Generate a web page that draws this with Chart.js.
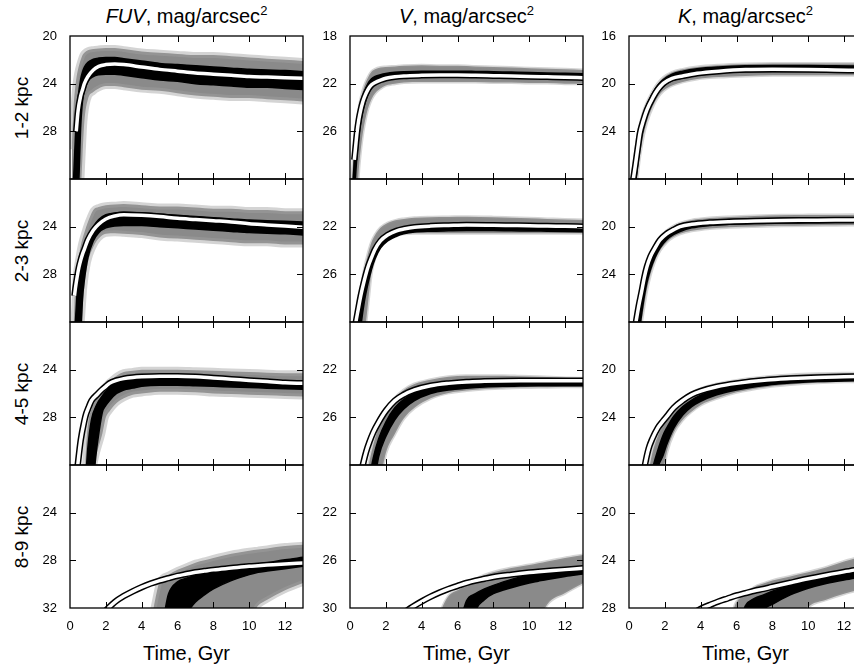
<!DOCTYPE html>
<html>
<head>
<meta charset="utf-8">
<script src="https://cdn.jsdelivr.net/npm/chart.js@4.4.1/dist/chart.umd.min.js"></script>
<style>
  html, body { margin: 0; padding: 0; background: #fff; overflow: hidden; }
  body { position: relative; width: 854px; height: 671px; font-family: 'Liberation Sans', Arial, sans-serif; color: #000; }
  canvas { position: absolute; }
  .coltitle, .timetitle { position: absolute; width: 233px; text-align: center; font-size: 20px; line-height: 20px; white-space: nowrap; }
  .coltitle sup { font-size: 13px; line-height: 0; vertical-align: 8px; }
  .rowlabel { position: absolute; left: 21px; font-size: 19px; line-height: 1; white-space: nowrap;
              transform: translate(-50%, -50%) rotate(-90deg); }
</style>
</head>
<body>
<script>
// ---- data (time in Gyr, surface brightness in mag/arcsec^2) ----
const bandNames = ['FUV', 'V', 'K'];
const rowNames = ['1-2 kpc', '2-3 kpc', '4-5 kpc', '8-9 kpc'];
const magTop = [20, 18, 16];          // brightest value shown per band (axis is reversed)
const timeTicks = [0, 2, 4, 6, 8, 10, 12];

// FUV, 1-2 kpc
const fuv12Time    = [0.1, 0.2, 0.3, 0.35, 0.45, 0.6, 0.7, 0.8, 1.0, 1.3, 1.6, 2, 2.5, 3, 4, 5, 6, 7, 8, 9, 10, 11, 12, 13];
const fuv12GrayHi  = [29.5, 26, 24.2, 23.6, 22.8, 22.0, 21.6, 21.4, 21.2, 21.1, 21.05, 21.0, 21.0, 21.1, 21.3, 21.4, 21.5, 21.6, 21.6, 21.7, 21.8, 21.9, 22.0, 22.1];
const fuv12GrayLo  = [34, 34, 34, 34, 34, 33, 30, 27.2, 25.3, 24.7, 24.4, 24.2, 24.2, 24.3, 24.5, 24.6, 24.8, 25.0, 25.1, 25.2, 25.2, 25.3, 25.4, 25.5];
const fuv12BlackHi = [34, 32, 28.5, 27, 25.2, 23.6, 23.0, 22.6, 22.2, 21.95, 21.85, 21.8, 21.8, 21.9, 22.1, 22.3, 22.4, 22.5, 22.6, 22.7, 22.8, 22.85, 22.9, 23.0];
const fuv12BlackLo = [34, 34, 34, 34, 33.5, 27.5, 25.4, 24.6, 23.8, 23.4, 23.25, 23.2, 23.2, 23.3, 23.5, 23.7, 23.8, 24.0, 24.1, 24.2, 24.3, 24.3, 24.4, 24.5];
const fuv12Model   = [null, null, null, 28, 26.3, 25.0, 24.5, 24.0, 23.4, 22.85, 22.55, 22.4, 22.35, 22.4, 22.6, 22.8, 22.95, 23.1, 23.2, 23.3, 23.4, 23.45, 23.5, 23.55];

// FUV, 2-3 kpc
const fuv23Time    = [0.2, 0.25, 0.3, 0.4, 0.5, 0.6, 0.7, 0.8, 1.0, 1.3, 1.6, 2, 2.5, 3, 4, 5, 6, 7, 8, 9, 10, 11, 12, 13];
const fuv23GrayHi  = [32, 30.5, 28.5, 27.3, 26.4, 25.6, 25.0, 24.5, 23.6, 22.6, 22.35, 22.2, 22.15, 22.1, 22.2, 22.3, 22.3, 22.4, 22.5, 22.5, 22.6, 22.6, 22.7, 22.7];
const fuv23GrayLo  = [34, 34, 34, 34, 34, 33, 31, 29, 27, 25.7, 25.0, 24.6, 24.55, 24.6, 24.7, 24.9, 25.0, 25.1, 25.2, 25.3, 25.4, 25.4, 25.5, 25.5];
const fuv23BlackHi = [34, 33, 32, 29.5, 28.2, 27.0, 26.2, 25.6, 24.8, 24.0, 23.4, 23.0, 22.85, 22.8, 22.85, 22.95, 23.05, 23.15, 23.25, 23.35, 23.45, 23.5, 23.55, 23.6];
const fuv23BlackLo = [34, 34, 34, 34, 34, 33, 30, 28.5, 26.6, 25.2, 24.5, 24.1, 23.95, 23.9, 23.9, 24.0, 24.1, 24.2, 24.3, 24.4, 24.5, 24.55, 24.6, 24.7];
const fuv23Model   = [null, 29.8, 29.2, 28.2, 27.4, 26.8, 26.3, 25.9, 25.1, 24.3, 23.8, 23.35, 23.1, 23.0, 23.05, 23.15, 23.3, 23.4, 23.5, 23.6, 23.75, 23.85, 23.95, 24.05];

// FUV, 4-5 kpc
const fuv45Time    = [0.4, 0.6, 0.8, 0.9, 1.0, 1.2, 1.5, 1.8, 2.0, 2.2, 2.6, 3, 3.5, 4, 5, 6, 7, 8, 9, 10, 11, 12, 13];
const fuv45GrayHi  = [34, 34, 33, 30.5, 28.6, 27.3, 26.4, 25.7, 25.3, 25.0, 24.5, 24.2, 24.1, 24.0, 24.0, 24.0, 24.05, 24.1, 24.15, 24.2, 24.25, 24.3, 24.3];
const fuv45GrayLo  = [34, 34, 34, 34, 34, 33, 31, 29.4, 28.0, 27.5, 26.8, 26.4, 26.1, 26.0, 25.85, 25.85, 25.9, 26.0, 26.05, 26.1, 26.15, 26.2, 26.25];
const fuv45BlackHi = [34, 34, 34, 32.5, 30.5, 28.2, 26.9, 26.2, 25.8, 25.5, 25.1, 24.9, 24.75, 24.7, 24.6, 24.6, 24.65, 24.7, 24.8, 24.85, 24.9, 24.95, 25.0];
const fuv45BlackLo = [34, 34, 34, 34, 34, 34, 30.5, 27.6, 27.0, 26.6, 26.0, 25.7, 25.55, 25.4, 25.3, 25.3, 25.35, 25.4, 25.45, 25.5, 25.55, 25.6, 25.65];
const fuv45Model   = [32.4, 29.9, 28.3, 27.7, 27.3, 26.6, 26.1, 25.65, 25.4, 25.15, 24.9, 24.75, 24.65, 24.6, 24.55, 24.55, 24.6, 24.7, 24.8, 24.9, 25.0, 25.1, 25.15];

// FUV, 8-9 kpc
const fuv89Time    = [2, 2.5, 3, 3.5, 4, 4.5, 5, 5.5, 6, 6.5, 7, 7.5, 8, 9, 10, 10.5, 11, 12, 13];
const fuv89GrayHi  = [34, 34, 34, 34, 34, 33, 29.8, 29.2, 28.8, 28.5, 28.2, 28.0, 27.8, 27.45, 27.2, 27.1, 27.0, 26.8, 26.7];
const fuv89GrayLo  = [34, 34, 34, 34, 34, 34, 34, 34, 34, 34, 34, 34, 34, 34, 33, 31.8, 31.3, 30.5, 29.9];
const fuv89BlackHi = [34, 34, 34, 34, 34, 34, 34, 30.8, 29.8, 29.5, 29.3, 29.15, 29.0, 28.7, 28.4, 28.3, 28.2, 27.95, 27.75];
const fuv89BlackLo = [34, 34, 34, 34, 34, 34, 34, 34, 34, 32.5, 31.5, 30.9, 30.4, 29.7, 29.2, 29.0, 28.9, 28.7, 28.5];
const fuv89Model   = [32.2, 31.5, 31.0, 30.6, 30.25, 29.95, 29.7, 29.5, 29.3, 29.15, 29.0, 28.9, 28.8, 28.65, 28.5, 28.45, 28.4, 28.3, 28.22];

// V, 1-2 kpc
const v12Time    = [0.1, 0.2, 0.24, 0.3, 0.4, 0.5, 0.6, 0.7, 0.8, 1.0, 1.2, 1.4, 1.7, 2.0, 2.5, 3, 4, 5, 6, 7, 8, 9, 10, 11, 12, 13];
const v12GrayHi  = [30, 28.1, 27.3, 26.3, 25.1, 24.1, 23.3, 22.7, 22.2, 21.5, 21.0, 20.8, 20.65, 20.6, 20.55, 20.5, 20.45, 20.5, 20.5, 20.55, 20.6, 20.65, 20.7, 20.75, 20.8, 20.85];
const v12GrayLo  = [32, 32, 32, 32, 31.2, 29.0, 27.5, 26.3, 25.4, 24.1, 23.3, 22.8, 22.4, 22.15, 22.0, 21.9, 21.85, 21.85, 21.85, 21.85, 21.9, 21.9, 21.95, 21.95, 22.0, 22.0];
const v12BlackHi = [32, 29.5, 28.3, 27.0, 25.6, 24.6, 23.8, 23.2, 22.7, 22.0, 21.6, 21.4, 21.25, 21.15, 21.05, 21.0, 20.95, 20.95, 20.95, 20.97, 21.0, 21.03, 21.06, 21.1, 21.13, 21.16];
const v12BlackLo = [32, 32, 31.5, 30.0, 27.8, 26.3, 25.2, 24.4, 23.8, 22.9, 22.35, 22.05, 21.8, 21.65, 21.52, 21.45, 21.4, 21.38, 21.38, 21.4, 21.43, 21.46, 21.5, 21.53, 21.56, 21.6];
const v12Model   = [null, null, 28.4, 27.5, 26.0, 24.95, 24.2, 23.6, 23.15, 22.5, 22.1, 21.9, 21.7, 21.55, 21.42, 21.35, 21.3, 21.28, 21.28, 21.3, 21.33, 21.36, 21.4, 21.43, 21.46, 21.5];

// V, 2-3 kpc
const v23Time    = [0.2, 0.33, 0.45, 0.6, 0.8, 1.0, 1.2, 1.4, 1.7, 2.1, 2.6, 3, 3.6, 4.5, 5.5, 6.5, 8, 9, 10, 11, 12, 13];
const v23GrayHi  = [33, 31.2, 29.5, 27.4, 25.6, 24.3, 23.3, 22.7, 22.1, 21.7, 21.45, 21.35, 21.25, 21.2, 21.18, 21.16, 21.2, 21.25, 21.3, 21.35, 21.4, 21.44];
const v23GrayLo  = [34, 34, 34, 33, 31.2, 28.5, 25.8, 24.6, 23.4, 22.95, 22.7, 22.6, 22.55, 22.55, 22.55, 22.55, 22.55, 22.55, 22.55, 22.55, 22.55, 22.55];
const v23BlackHi = [34, 32, 30.3, 28.6, 26.9, 25.6, 24.6, 23.9, 23.2, 22.75, 22.45, 22.3, 22.2, 22.1, 22.07, 22.05, 22.05, 22.05, 22.05, 22.06, 22.08, 22.1];
const v23BlackLo = [34, 34, 33, 30.5, 28.3, 26.8, 25.6, 24.7, 23.8, 23.2, 22.8, 22.6, 22.45, 22.38, 22.35, 22.33, 22.33, 22.35, 22.36, 22.38, 22.4, 22.42];
const v23Model   = [31.3, 30.0, 29.0, 27.8, 26.5, 25.4, 24.6, 23.9, 23.2, 22.7, 22.35, 22.2, 22.05, 21.95, 21.9, 21.86, 21.88, 21.9, 21.92, 21.95, 21.97, 22.0];

// V, 4-5 kpc
const v45Time    = [0.5, 0.7, 0.9, 1.1, 1.3, 1.6, 2.0, 2.5, 3, 3.6, 4.5, 5.5, 6.5, 7.5, 8.5, 9.5, 10.5, 11.5, 12.2, 13];
const v45GrayHi  = [34, 33, 31.3, 29.6, 28.3, 26.8, 25.5, 24.4, 23.7, 23.2, 22.85, 22.6, 22.5, 22.5, 22.5, 22.55, 22.6, 22.65, 22.7, 22.72];
const v45GrayLo  = [34, 34, 34, 34, 34, 32, 29.0, 27.4, 26.1, 25.2, 24.4, 23.95, 23.75, 23.62, 23.55, 23.5, 23.48, 23.45, 23.44, 23.43];
const v45BlackHi = [34, 34, 33, 31, 29.4, 27.8, 26.4, 25.2, 24.5, 24.0, 23.6, 23.35, 23.2, 23.12, 23.08, 23.05, 23.03, 23.02, 23.01, 23.0];
const v45BlackLo = [34, 34, 34, 34, 32, 29.3, 27.6, 26.2, 25.3, 24.6, 24.0, 23.7, 23.55, 23.45, 23.4, 23.38, 23.36, 23.35, 23.35, 23.35];
const v45Model   = [31.5, 30.1, 28.9, 28.0, 27.25, 26.4, 25.45, 24.6, 24.1, 23.7, 23.35, 23.15, 23.03, 22.98, 22.95, 22.93, 22.92, 22.92, 22.92, 22.92];

// V, 8-9 kpc
const v89Time    = [3, 3.5, 4, 4.5, 5, 5.5, 6, 6.5, 7, 7.5, 8, 9, 10, 10.5, 11, 12, 13];
const v89GrayHi  = [34, 34, 34, 34, 30.6, 29.0, 28.5, 28.1, 27.6, 27.25, 27.0, 26.65, 26.4, 26.25, 26.1, 25.8, 25.55];
const v89GrayLo  = [34, 34, 34, 34, 34, 34, 34, 34, 34, 34, 34, 34, 32.5, 31.2, 29.7, 28.75, 27.93];
const v89BlackHi = [34, 34, 34, 34, 34, 34, 32, 29.4, 28.8, 28.4, 28.1, 27.6, 27.25, 27.15, 27.05, 26.9, 26.8];
const v89BlackLo = [34, 34, 34, 34, 34, 34, 34, 34, 30.3, 29.3, 28.8, 28.3, 27.9, 27.75, 27.6, 27.35, 27.15];
const v89Model   = [30.4, 29.9, 29.45, 29.05, 28.7, 28.4, 28.15, 27.9, 27.7, 27.55, 27.4, 27.2, 27.03, 26.96, 26.9, 26.78, 26.67];

// K, 1-2 kpc
const k12Time    = [0.1, 0.24, 0.35, 0.5, 0.61, 0.8, 1.0, 1.36, 1.6, 1.91, 2.4, 3, 3.8, 5, 6.5, 8, 10, 11.5, 13];
const k12GrayHi  = [28.6, 27.0, 25.8, 24.3, 23.5, 22.4, 21.6, 20.55, 20.0, 19.5, 19.05, 18.8, 18.6, 18.45, 18.35, 18.3, 18.3, 18.3, 18.3];
const k12GrayLo  = [30, 30, 29.3, 27.3, 26.0, 24.4, 23.2, 21.8, 21.15, 20.6, 20.15, 19.85, 19.6, 19.45, 19.35, 19.3, 19.3, 19.3, 19.3];
const k12BlackHi = [30, 27.6, 26.2, 24.7, 23.7, 22.6, 21.8, 20.7, 20.15, 19.65, 19.2, 18.95, 18.75, 18.6, 18.5, 18.47, 18.48, 18.5, 18.52];
const k12BlackLo = [30, 30, 28.6, 26.5, 25.2, 23.7, 22.65, 21.4, 20.8, 20.25, 19.75, 19.5, 19.3, 19.1, 19.0, 18.97, 18.98, 19.0, 19.02];
const k12Model   = [null, 28, 26.9, 25.3, 24.16, 23.1, 22.2, 21.09, 20.5, 19.97, 19.55, 19.35, 19.13, 18.95, 18.82, 18.8, 18.82, 18.85, 18.88];

// K, 2-3 kpc
const k23Time    = [0.2, 0.39, 0.55, 0.7, 0.85, 1.0, 1.2, 1.45, 1.73, 2.1, 2.5, 2.85, 3.5, 4.5, 5.6, 7, 8.5, 10, 11.5, 13];
const k23GrayHi  = [30, 28.5, 26.8, 25.4, 24.2, 23.3, 22.4, 21.6, 20.9, 20.35, 19.95, 19.7, 19.45, 19.28, 19.18, 19.1, 19.05, 19.03, 19.02, 19.0];
const k23GrayLo  = [30, 30, 29.5, 28.0, 26.6, 25.3, 24.0, 22.85, 22.0, 21.3, 20.85, 20.6, 20.35, 20.15, 20.05, 19.98, 19.93, 19.9, 19.88, 19.86];
const k23BlackHi = [30, 28.6, 27.0, 25.7, 24.6, 23.6, 22.7, 21.9, 21.2, 20.6, 20.2, 19.95, 19.7, 19.5, 19.4, 19.33, 19.3, 19.28, 19.27, 19.26];
const k23BlackLo = [30, 30, 29.0, 27.4, 25.9, 24.7, 23.6, 22.6, 21.8, 21.1, 20.65, 20.4, 20.1, 19.9, 19.8, 19.73, 19.7, 19.68, 19.66, 19.65];
const k23Model   = [null, 28, 26.6, 25.5, 24.3, 23.36, 22.5, 21.8, 21.12, 20.6, 20.25, 20.0, 19.8, 19.66, 19.58, 19.52, 19.48, 19.46, 19.44, 19.43];

// K, 4-5 kpc
const k45Time    = [0.7, 0.89, 1.1, 1.3, 1.6, 1.9, 2.1, 2.5, 3.0, 3.5, 4.0, 4.9, 6, 7.7, 9, 10.5, 12, 13];
const k45GrayHi  = [31, 30, 28.5, 27.0, 25.6, 24.6, 24.0, 23.1, 22.4, 21.95, 21.6, 21.2, 20.9, 20.6, 20.45, 20.35, 20.3, 20.3];
const k45GrayLo  = [31, 31, 31, 31, 30, 28.6, 27.0, 25.3, 24.2, 23.5, 22.96, 22.4, 21.9, 21.45, 21.25, 21.1, 21.02, 21.0];
const k45BlackHi = [31, 31, 30.0, 28.4, 26.8, 25.5, 24.9, 23.9, 23.1, 22.55, 22.15, 21.7, 21.35, 21.0, 20.85, 20.75, 20.68, 20.65];
const k45BlackLo = [31, 31, 31, 31, 28.3, 27.2, 26.3, 24.9, 23.8, 23.1, 22.65, 22.1, 21.7, 21.3, 21.12, 21.0, 20.95, 20.92];
const k45Model   = [29.7, 28, 26.6, 25.8, 24.9, 24.3, 23.94, 23.2, 22.58, 22.1, 21.8, 21.43, 21.15, 20.87, 20.75, 20.65, 20.6, 20.57];

// K, 8-9 kpc
const k89Time    = [3.5, 4.1, 4.5, 5, 5.5, 6, 6.5, 7, 7.5, 8, 9, 10, 11, 12, 13];
const k89GrayHi  = [30, 30, 30, 30, 29.5, 27.5, 26.9, 26.25, 25.95, 25.7, 25.35, 25.0, 24.6, 24.1, 23.7];
const k89GrayLo  = [30, 30, 30, 30, 30, 30, 30, 30, 30, 30, 30, 27.9, 27.3, 26.8, 26.4];
const k89BlackHi = [30, 30, 30, 30, 30, 30, 27.8, 27.2, 26.9, 26.6, 26.15, 25.75, 25.45, 25.15, 24.9];
const k89BlackLo = [30, 30, 30, 30, 30, 30, 30, 30, 28.2, 27.7, 26.9, 26.35, 25.95, 25.65, 25.4];
const k89Model   = [28.5, 28.0, 27.75, 27.45, 27.2, 26.95, 26.75, 26.55, 26.4, 26.22, 25.88, 25.55, 25.25, 24.97, 24.72];

// panels[row][column]
const panels = [
  [
    { time: fuv12Time, grayHi: fuv12GrayHi, grayLo: fuv12GrayLo, blackHi: fuv12BlackHi, blackLo: fuv12BlackLo, model: fuv12Model },
    { time: v12Time, grayHi: v12GrayHi, grayLo: v12GrayLo, blackHi: v12BlackHi, blackLo: v12BlackLo, model: v12Model },
    { time: k12Time, grayHi: k12GrayHi, grayLo: k12GrayLo, blackHi: k12BlackHi, blackLo: k12BlackLo, model: k12Model }
  ],
  [
    { time: fuv23Time, grayHi: fuv23GrayHi, grayLo: fuv23GrayLo, blackHi: fuv23BlackHi, blackLo: fuv23BlackLo, model: fuv23Model },
    { time: v23Time, grayHi: v23GrayHi, grayLo: v23GrayLo, blackHi: v23BlackHi, blackLo: v23BlackLo, model: v23Model },
    { time: k23Time, grayHi: k23GrayHi, grayLo: k23GrayLo, blackHi: k23BlackHi, blackLo: k23BlackLo, model: k23Model }
  ],
  [
    { time: fuv45Time, grayHi: fuv45GrayHi, grayLo: fuv45GrayLo, blackHi: fuv45BlackHi, blackLo: fuv45BlackLo, model: fuv45Model },
    { time: v45Time, grayHi: v45GrayHi, grayLo: v45GrayLo, blackHi: v45BlackHi, blackLo: v45BlackLo, model: v45Model },
    { time: k45Time, grayHi: k45GrayHi, grayLo: k45GrayLo, blackHi: k45BlackHi, blackLo: k45BlackLo, model: k45Model }
  ],
  [
    { time: fuv89Time, grayHi: fuv89GrayHi, grayLo: fuv89GrayLo, blackHi: fuv89BlackHi, blackLo: fuv89BlackLo, model: fuv89Model },
    { time: v89Time, grayHi: v89GrayHi, grayLo: v89GrayLo, blackHi: v89BlackHi, blackLo: v89BlackLo, model: v89Model },
    { time: k89Time, grayHi: k89GrayHi, grayLo: k89GrayLo, blackHi: k89BlackHi, blackLo: k89BlackLo, model: k89Model }
  ]
];

// ---- layout ----
const columnLeft = [70, 350, 629];
const rowTop = [36, 179, 322, 465];
const plotW = 233, plotH = 143;
const padLeft = 45, padTop = 10, padRight = 12, padBottom = 35;

Chart.defaults.font.family = "'Liberation Sans', Arial, sans-serif";
Chart.defaults.font.size = 13;
Chart.defaults.color = '#000';

function pts(time, mags) {
  return time.map((t, i) => ({ x: t, y: mags[i] }));
}

// box round each panel, with short inward ticks on all four sides
const framePlugin = {
  id: 'frame',
  afterDatasetsDraw(chart) {
    const { ctx, chartArea: a } = chart;
    const x = chart.scales.x, y = chart.scales.y;
    ctx.save();
    ctx.strokeStyle = '#000';
    ctx.lineWidth = 1;
    ctx.beginPath();
    x.ticks.forEach(tk => {
      if (tk.value <= x.min || tk.value >= x.max) return;
      const px = Math.round(x.getPixelForValue(tk.value)) + 0.5;
      ctx.moveTo(px, a.top); ctx.lineTo(px, a.top + 6);
      ctx.moveTo(px, a.bottom); ctx.lineTo(px, a.bottom - 6);
    });
    y.ticks.forEach(tk => {
      if (tk.value <= y.min || tk.value >= y.max) return;
      const py = Math.round(y.getPixelForValue(tk.value)) + 0.5;
      ctx.moveTo(a.left, py); ctx.lineTo(a.left + 6, py);
      ctx.moveTo(a.right, py); ctx.lineTo(a.right - 6, py);
    });
    ctx.stroke();
    ctx.lineWidth = 1.3;
    ctx.strokeRect(a.left, a.top, a.right - a.left, a.bottom - a.top);
    ctx.restore();
  }
};

function addText(cls, html, left, top) {
  const d = document.createElement('div');
  d.className = cls;
  d.innerHTML = html;
  d.style.left = left + 'px';
  d.style.top = top + 'px';
  document.body.appendChild(d);
}

bandNames.forEach((band, c) => {
  addText('coltitle', '<i>' + band + '</i>, mag/arcsec<sup>2</sup>', columnLeft[c], 6);
  addText('timetitle', 'Time, Gyr', columnLeft[c], 643);
});
rowNames.forEach((name, r) => {
  const d = document.createElement('div');
  d.className = 'rowlabel';
  d.textContent = name;
  d.style.top = (rowTop[r] + plotH / 2) + 'px';
  document.body.appendChild(d);
});

rowNames.forEach((rowName, r) => {
  bandNames.forEach((band, c) => {
    const p = panels[r][c];
    const top = magTop[c];
    let yTicks = [top + 4, top + 8];
    if (r === 0) yTicks = [top, ...yTicks];
    if (r === rowNames.length - 1) yTicks = [...yTicks, top + 12];

    const isFuv = c === 0;
    const fringe = isFuv ? 'rgba(160,160,160,0.45)' : 'rgba(150,150,150,0.4)';
    const fringeW = isFuv ? 6 : 3;

    const canvas = document.createElement('canvas');
    canvas.width = plotW + padLeft + padRight;
    canvas.height = plotH + padTop + padBottom;
    canvas.style.left = (columnLeft[c] - padLeft) + 'px';
    canvas.style.top = (rowTop[r] - padTop) + 'px';
    document.body.appendChild(canvas);

    const line = { pointRadius: 0, pointHoverRadius: 0, cubicInterpolationMode: 'monotone', clip: 0 };

    new Chart(canvas, {
      type: 'line',
      data: {
        datasets: [
          { ...line, label: band + ' scatter hi', data: pts(p.time, p.grayHi), borderColor: fringe, borderWidth: fringeW, fill: false, order: 4 },
          { ...line, label: band + ' scatter lo', data: pts(p.time, p.grayLo), borderColor: fringe, borderWidth: fringeW, fill: '-1', backgroundColor: '#8a8a8a', order: 4 },
          { ...line, label: band + ' core hi', data: pts(p.time, p.blackHi), borderColor: '#000', borderWidth: 1.5, fill: false, order: 3 },
          { ...line, label: band + ' core lo', data: pts(p.time, p.blackLo), borderColor: '#000', borderWidth: 1.5, fill: '-1', backgroundColor: '#000', order: 3 },
          { ...line, label: band + ' model outline', data: pts(p.time, p.model), borderColor: '#000', borderWidth: 6.5, fill: false, order: 2 },
          { ...line, label: band + ' model', data: pts(p.time, p.model), borderColor: '#fff', borderWidth: 3.5, fill: false, order: 1 }
        ]
      },
      options: {
        responsive: false,
        devicePixelRatio: 1,
        animation: false,
        events: [],
        layout: { padding: { left: 0, top: padTop, right: padRight, bottom: 0 } },
        plugins: { legend: { display: false }, tooltip: { enabled: false } },
        scales: {
          x: {
            type: 'linear', min: 0, max: 13,
            afterBuildTicks: s => { s.ticks = timeTicks.map(v => ({ value: v })); },
            afterFit: s => { s.height = padBottom; s.paddingLeft = 0; s.paddingRight = 0; },
            grid: { display: false, drawTicks: false },
            border: { display: false },
            ticks: { display: r === rowNames.length - 1, autoSkip: false, maxRotation: 0, padding: 11, color: '#000' }
          },
          y: {
            type: 'linear', reverse: true, min: top, max: top + 12,
            afterBuildTicks: s => { s.ticks = yTicks.map(v => ({ value: v })); },
            // keep the plot box exactly where the reference has it
            afterFit: s => { s.width = padLeft; s.paddingTop = 0; s.paddingBottom = 0; },
            grid: { display: false, drawTicks: false },
            border: { display: false },
            ticks: { autoSkip: false, padding: 13, color: '#000' }
          }
        }
      },
      plugins: [framePlugin]
    });
  });
});
</script>
</body>
</html>
